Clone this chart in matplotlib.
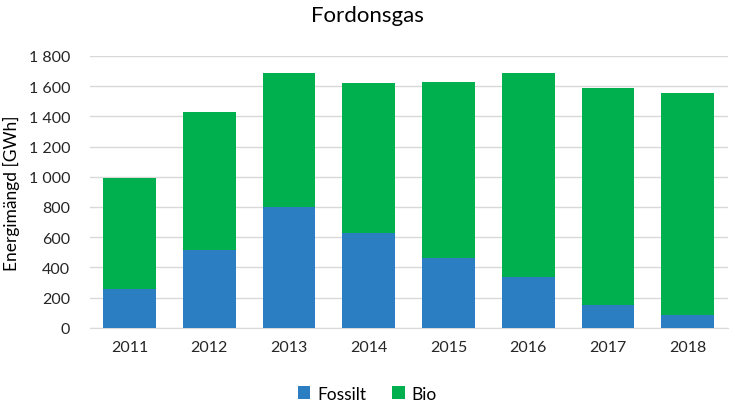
import matplotlib.pyplot as plt
import numpy as np

plt.rcParams['font.family'] = ['Lato', 'DejaVu Sans']

years = ["2011", "2012", "2013", "2014", "2015", "2016", "2017", "2018"]
fossilt = [256, 517, 802, 629, 462, 336, 150, 84]
bio = [738, 912, 885, 992, 1166, 1351, 1436, 1471]
yticks = [0, 200, 400, 600, 800, 1000, 1200, 1400, 1600, 1800]

fig = plt.figure(figsize=(7.35, 4.06), dpi=100)
ax = fig.add_axes([0.122, 0.19, 0.868, 0.67])

x = np.arange(len(years))
ax.bar(x, fossilt, width=0.66, color="#2A7EC1", label="Fossilt", zorder=3)
ax.bar(x, bio, width=0.66, bottom=fossilt, color="#00B04F", label="Bio", zorder=3)

ax.set_xlim(-0.5, len(years) - 0.5)
ax.set_ylim(0, 1800)
ax.set_yticks(yticks)
ax.set_yticklabels([f"{v:,}".replace(",", " ") for v in yticks])
ax.set_xticks(x)
ax.set_xticklabels(years)
ax.tick_params(axis="both", length=0, labelsize=11.5, colors="#262626")
ax.tick_params(axis="x", pad=9)
ax.tick_params(axis="y", pad=14)
ax.grid(axis="y", color="#D9D9D9", linewidth=1, zorder=0)
for s in ["top", "right", "left"]:
    ax.spines[s].set_visible(False)
ax.spines["bottom"].set_color("#D9D9D9")

ax.set_ylabel("Energimängd [GWh]", fontsize=12.5, color="#000000", labelpad=6)
fig.suptitle("Fordonsgas", fontsize=16, y=0.985)

fig.legend(loc="lower center", ncol=2, frameon=False, fontsize=12.5,
           handlelength=0.7, handleheight=0.7, handletextpad=0.4,
           columnspacing=1.5, bbox_to_anchor=(0.5, -0.03))

fig.savefig("out.png", dpi=100)
